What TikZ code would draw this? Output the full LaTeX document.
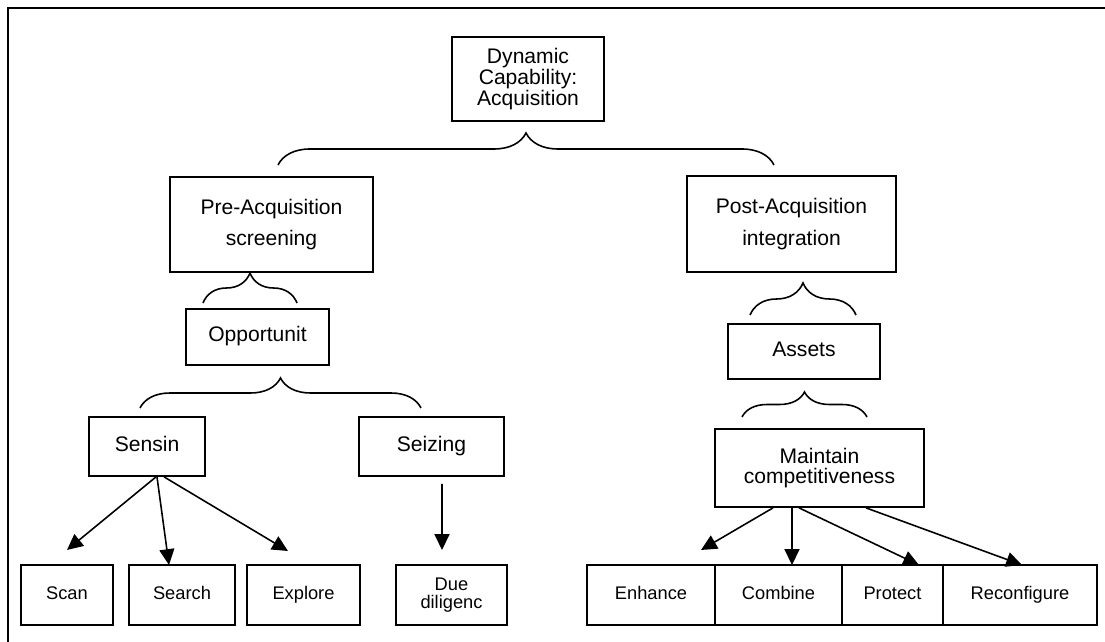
\documentclass[tikz,border=0pt]{standalone}
\usepackage{fontspec}
\setmainfont{Liberation Sans}
\usetikzlibrary{arrows.meta,positioning,decorations.pathreplacing}

\begin{document}
\begin{tikzpicture}[>={Triangle[length=9pt,width=8.5pt]},
    box/.style={draw, line width=1pt, align=center, inner sep=2pt, font=\fontsize{12}{11.1}\selectfont},
    leaf/.style={box, outer sep=0pt, minimum height=1.2cm, font=\fontsize{10.4}{10.2}\selectfont},
    oneline/.style={text height=0.75em, text depth=0.22em},
    arr/.style={->, line width=0.9pt},
    curly/.style={decorate, decoration={brace, amplitude=#1}, line width=0.9pt}]
    \useasboundingbox (0,0) rectangle (22.1,12.84);
    \draw[line width=0.8pt] (0.16,0) -- (0.16,12.68) -- (22.1,12.68);

    \node[box, minimum width=3.04cm, minimum height=1.68cm] (dc) at (10.56,11.26) {Dynamic\\Capability:\\Acquisition};
    \node[box, minimum width=4.06cm, minimum height=1.90cm, font=\fontsize{12}{18}\selectfont] (pre) at (5.43,8.35) {Pre-Acquisition\\screening};
    \node[box, minimum width=4.18cm, minimum height=1.92cm, font=\fontsize{12}{18}\selectfont] (post) at (15.83,8.36) {Post-Acquisition\\integration};
    \node[box, oneline, minimum width=2.86cm, minimum height=1.12cm] (opp) at (5.15,6.10) {Opportunit};
    \node[box, oneline, minimum width=3.04cm, minimum height=1.10cm] (assets) at (16.08,5.81) {Assets};
    \node[box, oneline, minimum width=2.32cm, minimum height=1.18cm] (sen) at (2.94,3.91) {Sensin};
    \node[box, oneline, minimum width=2.90cm, minimum height=1.18cm] (sei) at (8.63,3.91) {Seizing};
    \node[box, minimum width=4.18cm, minimum height=1.56cm] (main) at (16.39,3.48) {Maintain\\competitiveness};

    \node[leaf, oneline, minimum width=1.84cm] (scan) at (1.34,0.94) {Scan};
    \node[leaf, oneline, minimum width=2.12cm] (search) at (3.64,0.94) {Search};
    \node[leaf, oneline, minimum width=2.26cm] (explore) at (6.07,0.94) {Explore};
    \node[leaf, minimum width=2.22cm] (due) at (9.03,0.94) {Due\\diligenc};
    \node[leaf, oneline, minimum width=2.56cm] (enh) at (13.02,0.94) {Enhance};
    \node[leaf, oneline, minimum width=2.54cm, right=0cm of enh] (comb) {Combine};
    \node[leaf, oneline, minimum width=2.02cm, right=0cm of comb] (prot) {Protect};
    \node[leaf, oneline, minimum width=3.08cm, right=0cm of prot] (reconf) {Reconfigure};

    \coordinate (topL) at (5.56,9.54);
    \coordinate (topR) at (15.48,9.54);
    \coordinate (preL) at (4.06,6.78);
    \coordinate (preR) at (5.94,6.78);
    \coordinate (oppL) at (2.80,4.68);
    \coordinate (oppR) at (8.42,4.68);
    \coordinate (postL) at (15.00,6.54);
    \coordinate (postR) at (17.12,6.54);
    \coordinate (assL) at (14.84,4.50);
    \coordinate (assR) at (17.34,4.50);

    \draw[curly=0.64cm] (topL) -- (topR);
    \draw[curly=0.6cm] (preL) -- (preR);
    \draw[curly=0.6cm] (oppL) -- (oppR);
    \draw[curly=0.64cm] (postL) -- (postR);
    \draw[curly=0.5cm] (assL) -- (assR);

    \draw[arr] ([xshift=0.18cm]sen.south) -- ([yshift=0.3cm]scan.north);
    \draw[arr] ([xshift=0.2cm]sen.south) -- ([xshift=-0.26cm]search.north);
    \draw[arr] ([xshift=0.34cm]sen.south) -- ([xshift=-0.31cm,yshift=0.28cm]explore.north);
    \draw[arr] ([xshift=0.21cm,yshift=-0.14cm]sei.south) -- ([xshift=-0.19cm,yshift=0.3cm]due.north);

    \draw[arr] ([xshift=-0.93cm]main.south) -- ([xshift=1.0cm,yshift=0.3cm]enh.north);
    \draw[arr] ([xshift=-0.55cm]main.south) -- ([xshift=0.27cm]comb.north);
    \draw[arr] ([xshift=-0.41cm]main.south) -- ([xshift=0.53cm]prot.north);
    \draw[arr] ([xshift=0.93cm]main.south) -- ([xshift=0.04cm]reconf.north);
\end{tikzpicture}
\end{document}
